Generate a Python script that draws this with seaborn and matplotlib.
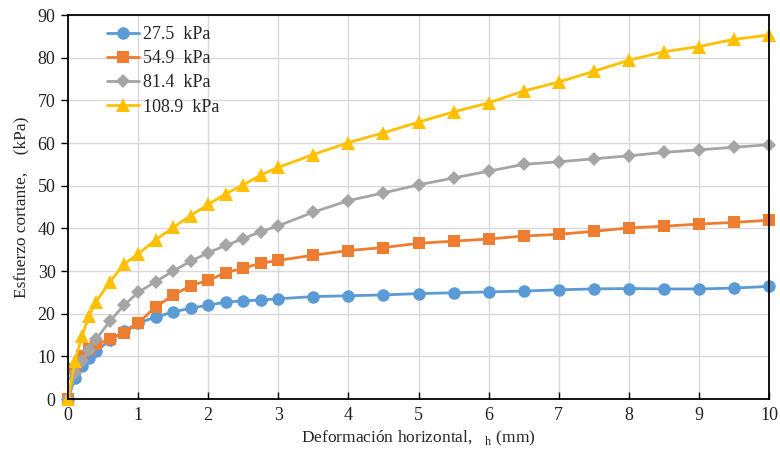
import matplotlib
matplotlib.use("Agg")
import matplotlib.pyplot as plt
import seaborn as sns
import pandas as pd

deformacion = [0, 0.1, 0.2, 0.3, 0.4, 0.6, 0.8, 1.0, 1.25, 1.5, 1.75, 2.0, 2.25, 2.5, 2.75,
               3.0, 3.5, 4.0, 4.5, 5.0, 5.5, 6.0, 6.5, 7.0, 7.5, 8.0, 8.5, 9.0, 9.5, 10.0]
s_27_5 = [0, 5.0, 7.7, 9.6, 11.2, 13.8, 16.0, 17.8, 19.2, 20.4, 21.3, 22.0, 22.7, 23.0, 23.2,
          23.5, 24.0, 24.2, 24.4, 24.7, 24.9, 25.1, 25.3, 25.6, 25.8, 25.9, 25.8, 25.8, 26.0, 26.4]
s_54_9 = [0, 7.0, 10.0, 11.7, 12.8, 14.0, 15.5, 17.8, 21.6, 24.3, 26.6, 27.8, 29.6, 30.7, 31.8,
          32.5, 33.7, 34.8, 35.5, 36.5, 37.0, 37.5, 38.2, 38.6, 39.3, 40.1, 40.5, 41.0, 41.4, 41.9]
s_81_4 = [0, 6.0, 9.0, 11.5, 14.0, 18.3, 22.0, 25.0, 27.5, 30.0, 32.3, 34.3, 36.0, 37.6, 39.2,
          40.6, 43.8, 46.5, 48.3, 50.2, 51.8, 53.4, 55.0, 55.6, 56.3, 57.0, 57.8, 58.4, 59.0, 59.6]
s_108_9 = [0, 9.0, 14.8, 19.5, 22.8, 27.5, 31.6, 34.0, 37.3, 40.2, 43.0, 45.6, 48.1, 50.2, 52.5,
           54.3, 57.3, 60.1, 62.4, 64.9, 67.3, 69.4, 72.2, 74.3, 76.8, 79.4, 81.4, 82.6, 84.3, 85.3]
series_names = ["27.5  kPa", "54.9  kPa", "81.4  kPa", "108.9  kPa"]
x_ticks = list(range(0, 11))
y_ticks = list(range(0, 91, 10))

frames = []
for name, vals in zip(series_names, [s_27_5, s_54_9, s_81_4, s_108_9]):
    frames.append(pd.DataFrame({"x": deformacion, "y": vals, "serie": name}))
df = pd.concat(frames, ignore_index=True)

sns.set_theme(style="white")
plt.rcParams["font.family"] = ["Liberation Serif", "DejaVu Serif"]
plt.rcParams["mathtext.fontset"] = "custom"
plt.rcParams["mathtext.rm"] = "Liberation Serif"

colors = ["#5B9BD5", "#ED7D31", "#A5A5A5", "#FFC000"]
markers = ["o", "s", "D", "^"]

fig = plt.figure(figsize=(7.8, 4.58), dpi=100)
ax = fig.add_axes([0.0872, 0.1288, 0.8987, 0.8384])

sns.lineplot(data=df, x="x", y="y", hue="serie", style="serie",
             palette=colors, markers=markers, dashes=False, ax=ax,
             linewidth=2, markeredgewidth=0, legend="full")
sizes = {"o": 9, "s": 9, "D": 7, "^": 10}
for line, m in zip(ax.get_lines()[:4], markers):
    line.set_markersize(sizes[m])
    line.set_clip_on(False)

ax.set_xlim(0, 10)
ax.set_ylim(0, 90)
ax.set_xticks(x_ticks)
ax.set_yticks(y_ticks)
ax.grid(True, color="#D9D9D9", linewidth=1)
ax.set_axisbelow(True)
for sp in ax.spines.values():
    sp.set_color("black")
    sp.set_linewidth(1.3)
ax.tick_params(axis="x", direction="in", length=5, width=1, labelsize=13, pad=6, colors="black")
ax.tick_params(axis="y", direction="out", length=5, width=1, labelsize=13, pad=4, colors="black")
ax.tick_params(axis="both", which="both", bottom=True, left=True)
for t in ax.get_xticklabels() + ax.get_yticklabels():
    t.set_color("#222222")

ax.set_xlabel("Deformación horizontal,   $_{\\mathrm{h}}$ (mm)", fontsize=12.5, labelpad=3)
ax.set_ylabel("Esfuerzo cortante,    (kPa)", fontsize=12.5, labelpad=6)

handles, labels = ax.get_legend_handles_labels()
for h, m in zip(handles, markers):
    h.set_markersize(sizes[m])
leg = ax.legend(handles, labels, loc="upper left", bbox_to_anchor=(0.032, 1.014),
                frameon=False, fontsize=13, handlelength=1.8, handletextpad=0.2,
                labelspacing=0.4)

fig.savefig("out.png", dpi=100)
